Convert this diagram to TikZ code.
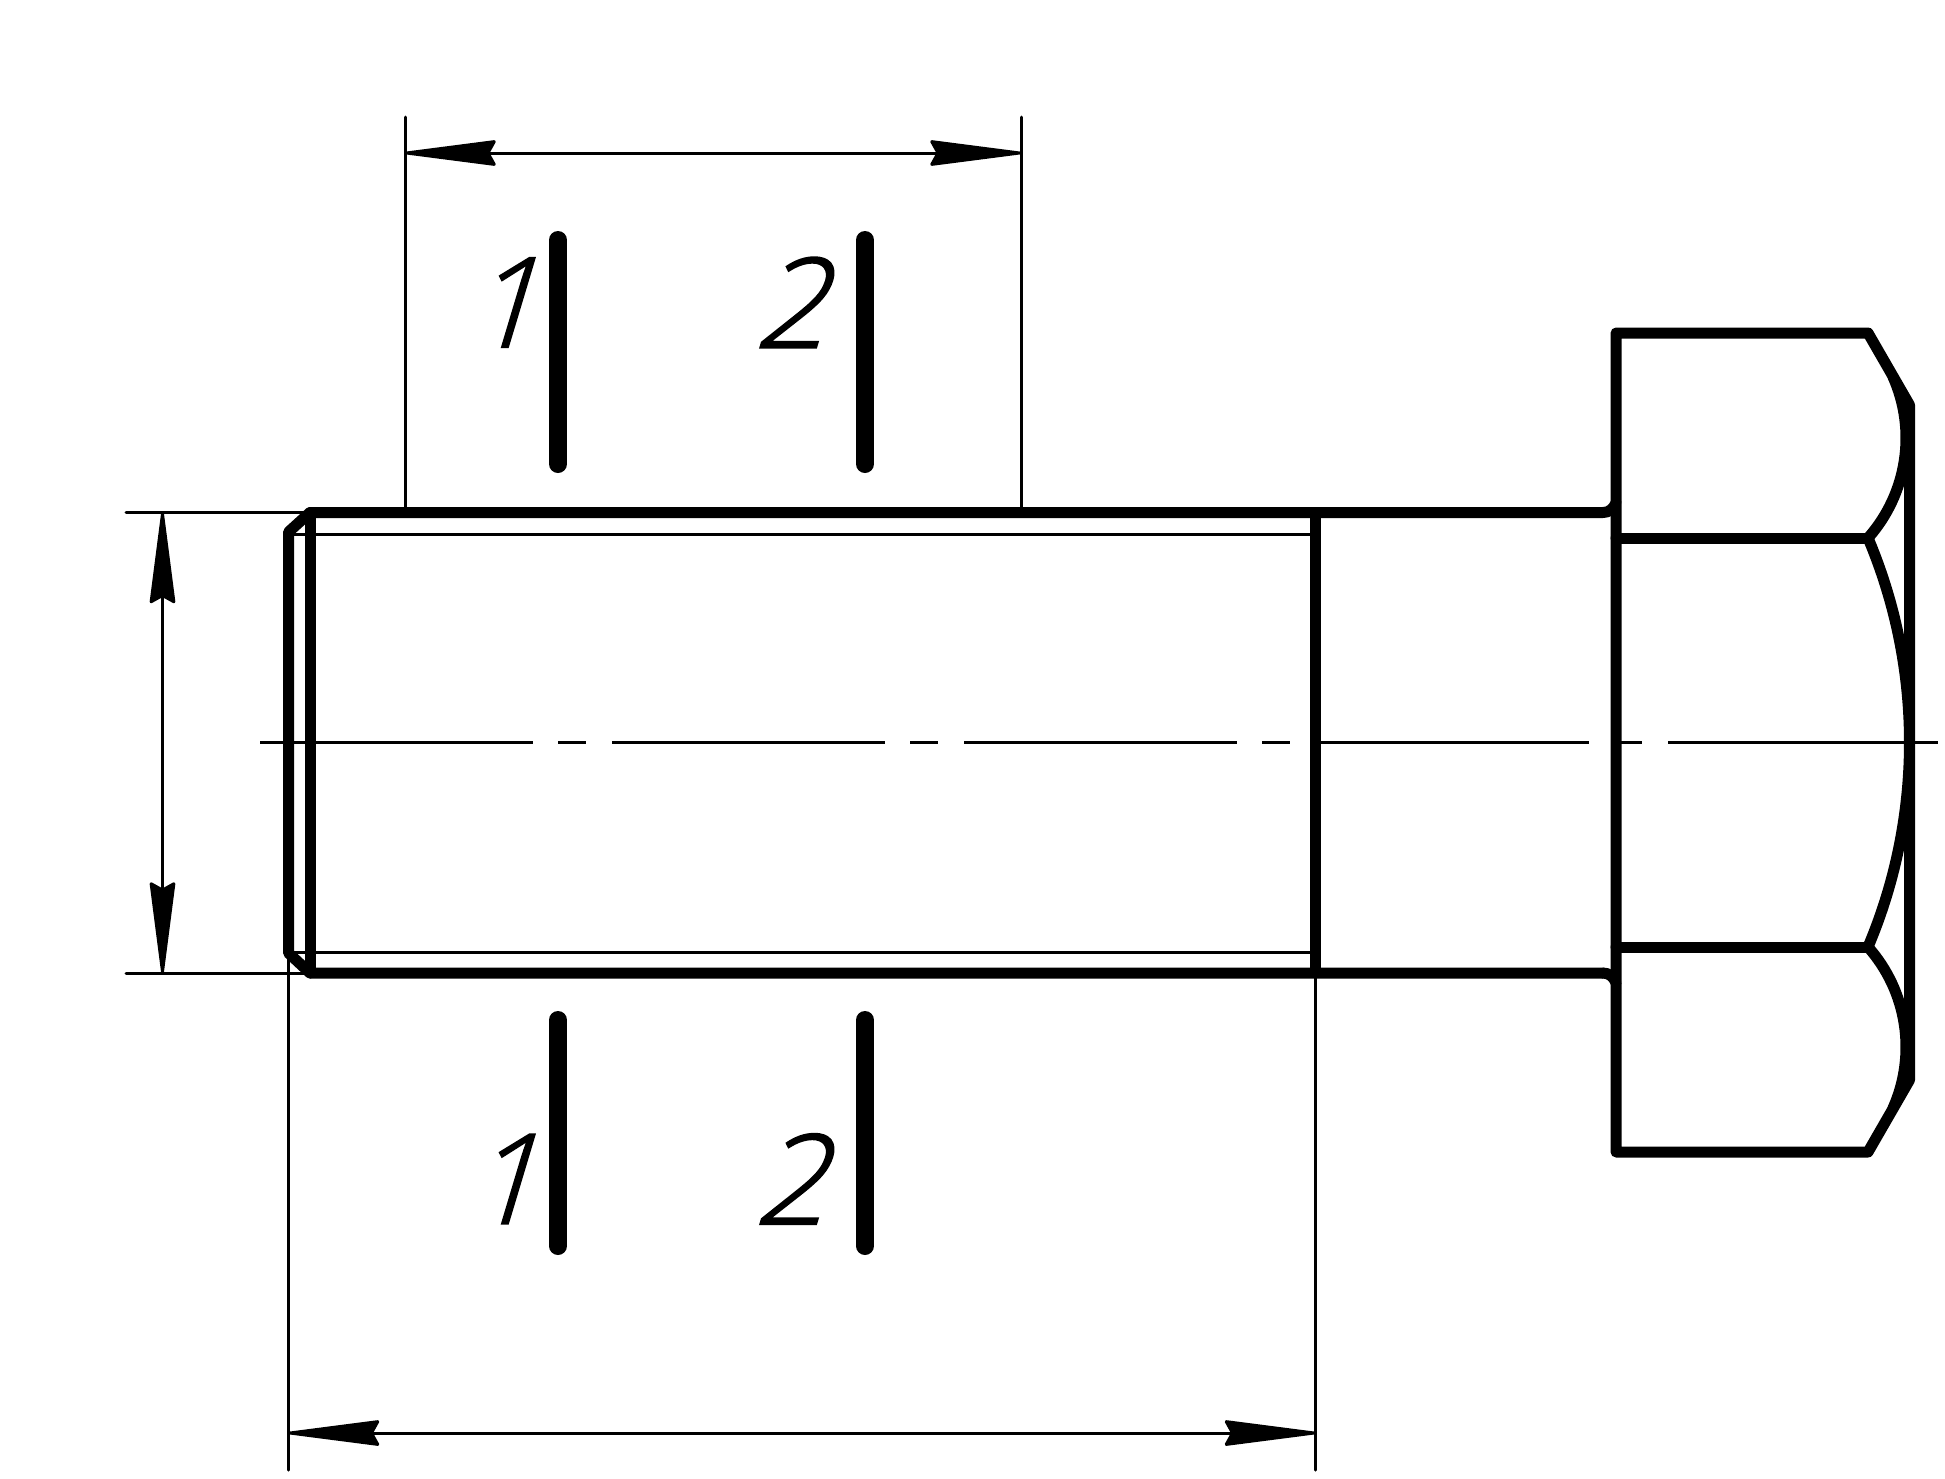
\documentclass[tikz,border=0pt]{standalone}
\usepackage{fontspec}
\usepackage{tikz}
\usetikzlibrary{arrows.meta, positioning}
\newfontfamily\dimfont[FakeSlant=0.3,FakeBold=1.5]{Open Sans Light}

\begin{document}
\begin{tikzpicture}[x=1pt,y=-1pt,>={Stealth[length=102pt,width=26pt,inset=7pt,round]},
  thinln/.style={line width=3pt,line cap=round},
  dimln/.style={thinln,<->},
  centerln/.style={line width=3pt,dash pattern=on 273pt off 25pt on 28pt off 26pt},
  thickln/.style={line width=11pt,line join=round,line cap=round},
  cutln/.style={line width=18pt,line cap=round},
  numlbl/.style={font=\fontsize{125}{125}\dimfont,inner sep=0pt}]
  \useasboundingbox (0,0) rectangle (1945,1478);

  % extension lines
  \coordinate (E1) at (405,117);
  \coordinate (E2) at (1021,117);
  \coordinate (E3) at (126,512.5);
  \coordinate (E4) at (126,973);
  \coordinate (E5) at (288.5,1470);
  \coordinate (E6) at (1315.5,1470);
  \coordinate (C1) at (260,742.5);
  \coordinate (C2) at (1938,742.5);

  % body of the bolt
  \coordinate (A1) at (288.5,532);
  \coordinate (A2) at (310,512.5);
  \coordinate (A3) at (1603,512.5);
  \coordinate (A4) at (1616,503);
  \coordinate (B1) at (288.5,953);
  \coordinate (B2) at (310,973);
  \coordinate (B3) at (1603,973);
  \coordinate (B4) at (1616,982.5);
  \coordinate (T1) at (1315.5,512.5);
  \coordinate (T2) at (1315.5,973);

  % head
  \coordinate (H1) at (1616,333);
  \coordinate (H2) at (1868,333);
  \coordinate (H3) at (1909.5,405);
  \coordinate (H4) at (1909.5,1080);
  \coordinate (H5) at (1868,1152);
  \coordinate (H6) at (1616,1152);
  \coordinate (M1) at (1616,538);
  \coordinate (M2) at (1868,538);
  \coordinate (M3) at (1616,947);
  \coordinate (M4) at (1868,947);

  \draw[centerln] (C1) -- (C2);
  \draw[thinln] (E1) -- (405,512.5);
  \draw[thinln] (E2) -- (1021,512.5);
  \draw[thinln] (E3) -- (A2);
  \draw[thinln] (E4) -- (B2);
  \draw[thinln] (288.5,953) -- (E5);
  \draw[thinln] (T2) -- (E6);
  \draw[thinln] (288.5,534) -- (1315.5,534);
  \draw[thinln] (288.5,952) -- (1315.5,952);

  \draw[dimln] (405,153) -- (1021,153);
  \draw[dimln] (288.5,1433) -- (1315.5,1433);
  \draw[dimln] (162.5,512.5) -- (162.5,973);

  \draw[thickln] (A3) .. controls (1609,512.5) and (1613,509) .. (A4);
  \draw[thickln] (B3) .. controls (1609,973) and (1613,976.5) .. (B4);
  \draw[thickln] (A3) -- (A2) -- (A1) -- (B1) -- (B2) -- (B3);
  \draw[thickln] (A2) -- (B2);
  \draw[thickln] (T1) -- (T2);
  \draw[thickln] (H3) -- (H2) -- (H1) -- (H6) -- (H5) -- (H4) -- cycle;
  \draw[thickln] (M1) -- (M2);
  \draw[thickln] (M3) -- (M4);
  \draw[thickln] (M2) arc[start angle=-22.94,end angle=22.94,radius=524.6];
  \draw[thickln] (M2) arc[start angle=41.6,end angle=-24,radius=150.6];
  \draw[thickln] (M4) arc[start angle=-41.6,end angle=24,radius=150.6];

  % section marks
  \draw[cutln] (558,240) -- (558,464);
  \draw[cutln] (865,240) -- (865,464);
  \draw[cutln] (558,1020) -- (558,1246);
  \draw[cutln] (865,1020) -- (865,1246);
  \node[numlbl] (N1) at (502,302.5) {1};
  \node[numlbl] (N2) at (789,302.5) {2};
  \node[numlbl] (N3) at (502,1179) {1};
  \node[numlbl] (N4) at (789,1179) {2};
\end{tikzpicture}
\end{document}
